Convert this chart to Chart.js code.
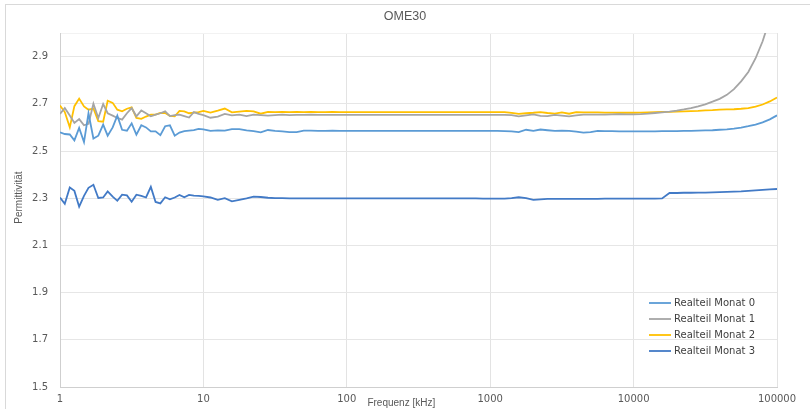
<!DOCTYPE html>
<html>
<head>
<meta charset="utf-8">
<title>OME30</title>
<script src="https://cdn.jsdelivr.net/npm/chart.js@4.4.1/dist/chart.umd.min.js"></script>
<style>
  html, body { margin: 0; padding: 0; background: #ffffff; }
  canvas { display: block; }
</style>
</head>
<body>
<canvas id="chart" width="810" height="409"></canvas>
<script>
// Measurement frequencies in kHz (log spaced, finer in the first decade)
const freq = [
  1, 1.08, 1.17, 1.26, 1.36, 1.47, 1.58, 1.71, 1.85, 2,
  2.15, 2.33, 2.51, 2.71, 2.93, 3.16, 3.41, 3.69, 3.98, 4.3,
  4.64, 5.01, 5.41, 5.84, 6.31, 6.81, 7.36, 7.94, 8.58, 9.26,
  10, 11.2, 12.6, 14.1, 15.8, 17.8, 20, 22.4, 25.1, 28.2,
  31.6, 35.5, 39.8, 44.7, 50.1, 56.2, 63.1, 70.8, 79.4, 89.1,
  100, 112, 126, 141, 158, 178, 200, 224, 251, 282,
  316, 355, 398, 447, 501, 562, 631, 708, 794, 891,
  1000, 1120, 1260, 1410, 1580, 1780, 2000, 2240, 2510, 2820,
  3160, 3550, 3980, 4470, 5010, 5620, 6310, 7080, 7940, 8910,
  10000, 11200, 12600, 14100, 15800, 17800, 20000, 22400, 25100, 28200,
  31600, 35500, 39800, 44700, 50100, 56200, 63100, 70800, 79400, 89100,
  100000
];

// Real part of the permittivity, one array per month
const month0 = [
  2.579, 2.572, 2.570, 2.545, 2.598, 2.538, 2.660, 2.553, 2.565, 2.612,
  2.565, 2.600, 2.650, 2.590, 2.586, 2.617, 2.569, 2.609, 2.600, 2.583,
  2.583, 2.567, 2.605, 2.609, 2.565, 2.578, 2.584, 2.586, 2.588, 2.594,
  2.592, 2.585, 2.587, 2.586, 2.593, 2.593, 2.587, 2.584, 2.579, 2.589,
  2.585, 2.583, 2.580, 2.580, 2.586, 2.586, 2.585, 2.585, 2.586, 2.585,
  2.585, 2.585, 2.585, 2.585, 2.585, 2.585, 2.585, 2.585, 2.585, 2.585,
  2.585, 2.585, 2.585, 2.585, 2.585, 2.585, 2.585, 2.585, 2.585, 2.585,
  2.585, 2.585, 2.584, 2.583, 2.580, 2.590, 2.585, 2.591, 2.588, 2.585,
  2.586, 2.585, 2.582, 2.578, 2.580, 2.585, 2.584, 2.584, 2.583, 2.583,
  2.583, 2.583, 2.583, 2.583, 2.584, 2.584, 2.584, 2.585, 2.585, 2.586,
  2.587, 2.588, 2.590, 2.592, 2.595, 2.599, 2.605, 2.612, 2.621, 2.634,
  2.651
];
const month1 = [
  2.657, 2.682, 2.650, 2.619, 2.635, 2.609, 2.615, 2.700, 2.640, 2.699,
  2.660, 2.650, 2.640, 2.633, 2.660, 2.682, 2.647, 2.672, 2.660, 2.647,
  2.654, 2.660, 2.668, 2.648, 2.652, 2.654, 2.648, 2.642, 2.665, 2.657,
  2.652, 2.641, 2.646, 2.657, 2.651, 2.654, 2.648, 2.654, 2.652, 2.650,
  2.652, 2.654, 2.652, 2.653, 2.653, 2.654, 2.653, 2.653, 2.653, 2.653,
  2.653, 2.653, 2.653, 2.653, 2.653, 2.653, 2.653, 2.653, 2.653, 2.653,
  2.653, 2.653, 2.653, 2.653, 2.653, 2.653, 2.653, 2.653, 2.653, 2.653,
  2.653, 2.653, 2.653, 2.652, 2.647, 2.651, 2.655, 2.649, 2.648, 2.653,
  2.650, 2.647, 2.651, 2.654, 2.654, 2.654, 2.654, 2.655, 2.656, 2.655,
  2.655, 2.656, 2.658, 2.661, 2.664, 2.667, 2.671, 2.676, 2.682, 2.689,
  2.698, 2.709, 2.721, 2.738, 2.762, 2.795, 2.835, 2.892, 2.965, 3.060,
  3.160
];
const month2 = [
  2.693, 2.665, 2.600, 2.690, 2.722, 2.689, 2.675, 2.680, 2.626, 2.624,
  2.713, 2.704, 2.675, 2.668, 2.679, 2.685, 2.640, 2.636, 2.646, 2.654,
  2.654, 2.661, 2.661, 2.649, 2.647, 2.670, 2.668, 2.660, 2.663, 2.665,
  2.670, 2.663, 2.671, 2.680, 2.664, 2.667, 2.670, 2.668, 2.658, 2.666,
  2.665, 2.666, 2.665, 2.666, 2.665, 2.666, 2.665, 2.665, 2.666, 2.665,
  2.665, 2.665, 2.665, 2.665, 2.665, 2.665, 2.665, 2.665, 2.665, 2.665,
  2.665, 2.665, 2.665, 2.665, 2.665, 2.665, 2.665, 2.665, 2.665, 2.665,
  2.665, 2.665, 2.665, 2.662, 2.657, 2.660, 2.662, 2.665, 2.661, 2.658,
  2.664, 2.658, 2.665, 2.664, 2.664, 2.664, 2.663, 2.663, 2.662, 2.662,
  2.662, 2.663, 2.664, 2.665, 2.666, 2.666, 2.667, 2.668, 2.669, 2.670,
  2.672, 2.673, 2.675, 2.676, 2.677, 2.679, 2.682, 2.688, 2.697, 2.710,
  2.727
];
const month3 = [
  2.303, 2.276, 2.345, 2.331, 2.264, 2.310, 2.344, 2.357, 2.301, 2.303,
  2.329, 2.307, 2.289, 2.315, 2.312, 2.285, 2.315, 2.310, 2.303, 2.348,
  2.284, 2.278, 2.304, 2.295, 2.303, 2.314, 2.304, 2.314, 2.311, 2.310,
  2.308, 2.303, 2.293, 2.300, 2.287, 2.293, 2.299, 2.307, 2.305, 2.302,
  2.300, 2.300, 2.299, 2.299, 2.299, 2.299, 2.299, 2.299, 2.299, 2.299,
  2.299, 2.299, 2.299, 2.299, 2.299, 2.299, 2.299, 2.299, 2.299, 2.299,
  2.299, 2.299, 2.299, 2.299, 2.299, 2.299, 2.299, 2.299, 2.299, 2.298,
  2.298, 2.298, 2.298, 2.300, 2.304, 2.300, 2.293, 2.295, 2.297, 2.297,
  2.297, 2.297, 2.297, 2.297, 2.297, 2.297, 2.298, 2.298, 2.298, 2.298,
  2.298, 2.298, 2.298, 2.298, 2.299, 2.322, 2.322, 2.323, 2.323, 2.324,
  2.324, 2.325, 2.326, 2.327, 2.328, 2.329, 2.331, 2.333, 2.335, 2.337,
  2.339
];

const seriesNames = ['Realteil Monat 0', 'Realteil Monat 1', 'Realteil Monat 2', 'Realteil Monat 3'];
const seriesColors = ['#5B9BD5', '#A5A5A5', '#FFC000', '#427AC6'];

const xTicks = [1, 10, 100, 1000, 10000, 100000];
const yTicks = [1.5, 1.7, 1.9, 2.1, 2.3, 2.5, 2.7, 2.9];
const yMin = 1.5;
const yMax = 3.0;

const chartTitle = 'OME30';
const xAxisTitle = 'Frequenz [kHz]';
const yAxisTitle = 'Permittivität';

const TEXT = '#595959';
const TICK_FONT = { family: '"DejaVu Sans", Verdana, sans-serif', size: 10 };

function toPoints(values) {
  return freq.map((f, i) => ({ x: f, y: values[i] }));
}

const datasets = [month0, month1, month2, month3].map((vals, i) => ({
  label: seriesNames[i],
  data: toPoints(vals),
  borderColor: seriesColors[i],
  backgroundColor: seriesColors[i],
  borderWidth: 1.8,
  pointRadius: 0,
  tension: 0,
  fill: false
}));

// Frame, title, axis captions and the in-plot legend
const chartDecor = {
  id: 'chartDecor',
  beforeDraw(chart) {
    const { ctx } = chart;
    ctx.save();
    ctx.fillStyle = '#ffffff';
    ctx.fillRect(0, 0, chart.width, chart.height);
    ctx.strokeStyle = '#d9d9d9';
    ctx.lineWidth = 1;
    ctx.strokeRect(5.5, 4.5, chart.width, chart.height);
    ctx.restore();
  },
  afterDraw(chart) {
    const { ctx, chartArea: a } = chart;
    ctx.save();
    ctx.fillStyle = TEXT;
    ctx.textAlign = 'center';
    ctx.textBaseline = 'middle';

    ctx.font = '12.5px "Liberation Sans", Arial, sans-serif';
    ctx.fillText(chartTitle, chart.width / 2, 17);

    ctx.font = '10px "Liberation Sans", Arial, sans-serif';
    ctx.fillText(xAxisTitle, a.left + a.width * 0.476, a.bottom + 16);

    ctx.save();
    ctx.translate(a.left - 41, a.top + a.height * 0.465);
    ctx.rotate(-Math.PI / 2);
    ctx.fillText(yAxisTitle, 0, 0);
    ctx.restore();

    // legend
    const lx = a.right - 128;
    let ly = a.bottom - 84;
    ctx.font = '10px "DejaVu Sans", Verdana, sans-serif';
    ctx.textAlign = 'left';
    chart.data.datasets.forEach(ds => {
      ctx.strokeStyle = ds.borderColor;
      ctx.lineWidth = 1.8;
      ctx.beginPath();
      ctx.moveTo(lx, ly);
      ctx.lineTo(lx + 22, ly);
      ctx.stroke();
      ctx.fillStyle = '#404040';
      ctx.fillText(ds.label, lx + 25, ly);
      ly += 16;
    });
    ctx.restore();
  }
};

new Chart(document.getElementById('chart'), {
  type: 'line',
  data: { datasets },
  plugins: [chartDecor],
  options: {
    responsive: false,
    animation: false,
    devicePixelRatio: 1,
    layout: { padding: { top: 33, right: 33, bottom: 0, left: 0 } },
    plugins: {
      legend: { display: false },
      title: { display: false },
      tooltip: { enabled: false }
    },
    scales: {
      x: {
        type: 'logarithmic',
        min: xTicks[0],
        max: xTicks[xTicks.length - 1],
        afterBuildTicks(scale) {
          scale.ticks = xTicks.map(v => ({ value: v }));
        },
        afterFit(scale) { scale.height = 22; },
        ticks: {
          autoSkip: false,
          maxRotation: 0,
          padding: 6,
          color: TEXT,
          font: TICK_FONT,
          callback: v => String(v)
        },
        grid: { color: '#e3e3e3', drawTicks: false, lineWidth: 1 },
        border: { color: '#cfcfcf', width: 1 }
      },
      y: {
        type: 'linear',
        min: yMin,
        max: yMax,
        afterBuildTicks(scale) {
          scale.ticks = yTicks.concat([yMax]).map(v => ({ value: v }));
        },
        afterFit(scale) { scale.width = 60; },
        ticks: {
          padding: 12,
          color: TEXT,
          font: TICK_FONT,
          callback: v => (v >= yMax ? '' : v.toFixed(1))
        },
        grid: {
          color: ctx => (ctx.tick && ctx.tick.value >= yMax ? '#f2f2f2' : '#e6e6e6'),
          drawTicks: false,
          lineWidth: 1
        },
        border: { color: '#cfcfcf', width: 1 }
      }
    }
  }
});
</script>
</body>
</html>
